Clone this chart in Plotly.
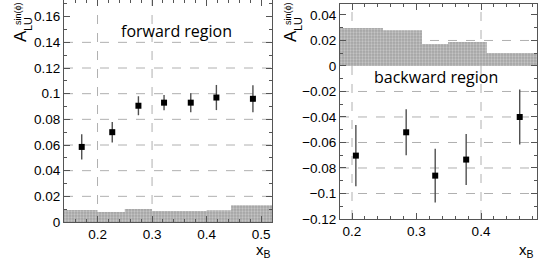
import plotly.graph_objects as go

# ---- data: forward region (left) ----
fw_x = [0.171, 0.227, 0.275, 0.322, 0.371, 0.418, 0.485]
fw_y = [0.0585, 0.070, 0.0906, 0.093, 0.093, 0.097, 0.096]
fw_err = [0.0098, 0.008, 0.0074, 0.006, 0.0074, 0.0098, 0.0105]
fw_sys_edges = [0.1385, 0.2, 0.25, 0.3, 0.35, 0.4, 0.445, 0.52]
fw_sys = [0.0094, 0.0078, 0.0101, 0.0086, 0.0086, 0.0092, 0.013]

# ---- data: backward region (right) ----
bw_x = [0.206, 0.284, 0.329, 0.377, 0.460]
bw_y = [-0.0703, -0.052, -0.086, -0.0734, -0.040]
bw_err = [0.024, 0.018, 0.021, 0.020, 0.0215]
bw_sys_edges = [0.1814, 0.248, 0.3085, 0.349, 0.409, 0.4868]
bw_sys = [0.0297, 0.028, 0.0172, 0.0188, 0.0102]

left_yticks = [0, 0.02, 0.04, 0.06, 0.08, 0.1, 0.12, 0.14, 0.16]
left_yticktext = ["0", "0.02", "0.04", "0.06", "0.08", "0.1", "0.12", "0.14", "0.16"]
left_xticks = [0.2, 0.3, 0.4, 0.5]
right_yticks = [-0.12, -0.1, -0.08, -0.06, -0.04, -0.02, 0, 0.02, 0.04]
right_yticktext = ["\u22120.12", "\u22120.1", "\u22120.08", "\u22120.06", "\u22120.04", "\u22120.02", "0", "0.02", "0.04"]
right_xticks = [0.2, 0.3, 0.4]

left_grid_x = [0.2, 0.3]
left_grid_y = [0.02, 0.04, 0.06, 0.08, 0.1, 0.12, 0.14]
right_grid_x = [0.2, 0.4]
right_grid_y = [-0.1, -0.08, -0.06, -0.04, -0.02, 0.02]

FONT = "Liberation Sans, Arial, sans-serif"
fig = go.Figure()

pattern = dict(shape=".", bgcolor="#a3a3a3", fgcolor="#e6e6e6", size=3, solidity=0.45)

def band(edges, vals, xa, ya):
    return go.Scatter(x=edges, y=vals + [vals[-1]], mode="lines", line=dict(width=0, shape="hv"),
                      fill="tozeroy", fillcolor="rgba(0,0,0,0)", fillpattern=pattern,
                      xaxis=xa, yaxis=ya, showlegend=False, hoverinfo="skip")

fig.add_trace(band(fw_sys_edges, fw_sys, "x", "y"))
fig.add_trace(band(bw_sys_edges, bw_sys, "x2", "y2"))

def pts(x, y, e, xa, ya):
    return go.Scatter(x=x, y=y, mode="markers", marker=dict(symbol="square", size=6, color="black"),
                      error_y=dict(type="data", array=e, color="#505050", thickness=1.4, width=0),
                      xaxis=xa, yaxis=ya, showlegend=False)

fig.add_trace(pts(fw_x, fw_y, fw_err, "x", "y"))
fig.add_trace(pts(bw_x, bw_y, bw_err, "x2", "y2"))

axcommon = dict(showline=True, linecolor="#555", linewidth=1, mirror="allticks", ticks="inside",
                ticklen=6, tickcolor="#555", showgrid=False, zeroline=False, automargin=False,
                tickfont=dict(family=FONT, size=13.5, color="black"),
                minor=dict(ticks="inside", ticklen=3, tickcolor="#555", showgrid=False))

fig.update_layout(
    width=545, height=261, margin=dict(l=0, r=0, t=0, b=0),
    paper_bgcolor="white", plot_bgcolor="white",
    xaxis=dict(domain=[64/545, 272/545], range=[0.1385, 0.52], tickvals=left_xticks,
               ticktext=["0.2", "0.3", "0.4", "0.5"], anchor="y", **axcommon),
    yaxis=dict(domain=[1-222/261, 1.0], range=[0, 0.173], tickvals=left_yticks,
               ticktext=left_yticktext, anchor="x", **axcommon),
    xaxis2=dict(domain=[340/545, 537/545], range=[0.1814, 0.4868], tickvals=right_xticks,
                ticktext=["0.2", "0.3", "0.4"], anchor="y2", **axcommon),
    yaxis2=dict(domain=[1-219/261, 1-4/261], range=[-0.12, 0.0486], tickvals=right_yticks,
                ticktext=right_yticktext, anchor="x2", **axcommon),
)
fig.update_xaxes(minor_dtick=0.02, minor_tick0=0)
fig.update_yaxes(minor_dtick=0.01, minor_tick0=0)

grid_line = dict(color="#b0b0b0", width=1, dash="dash")
shapes = []
for gx in left_grid_x:
    shapes.append(dict(type="line", xref="x", yref="y domain", x0=gx, x1=gx, y0=0, y1=1, line=grid_line, layer="below"))
for gy in left_grid_y:
    shapes.append(dict(type="line", xref="x domain", yref="y", x0=0, x1=1, y0=gy, y1=gy, line=grid_line, layer="below"))
for gx in right_grid_x:
    shapes.append(dict(type="line", xref="x2", yref="y2 domain", x0=gx, x1=gx, y0=0, y1=1, line=grid_line, layer="below"))
for gy in right_grid_y:
    shapes.append(dict(type="line", xref="x2 domain", yref="y2", x0=0, x1=1, y0=gy, y1=gy, line=grid_line, layer="below"))
fig.update_layout(shapes=shapes)

ann = []
TFONT = "Open Sans, Lato, sans-serif"
ann.append(dict(text="forward region", xref="paper", yref="paper", x=176/545, y=1-31/261,
                showarrow=False, font=dict(family=TFONT, size=16, color="black"), xanchor="center", yanchor="middle"))
ann.append(dict(text="backward region", xref="paper", yref="paper", x=436/545, y=1-77/261,
                showarrow=False, font=dict(family=TFONT, size=16, color="black"), xanchor="center", yanchor="middle"))

def ytitle(x0):
    return [
        dict(text="A", xref="paper", yref="paper", x=(x0+20)/545, y=1-36/261, textangle=-90,
             showarrow=False, font=dict(family=FONT, size=17, color="black"), xanchor="center", yanchor="middle"),
        dict(text="sin(\u03d5)", xref="paper", yref="paper", x=(x0+18)/545, y=1-14/261, textangle=-90,
             showarrow=False, font=dict(family=FONT, size=9, color="black"), xanchor="center", yanchor="middle"),
        dict(text="LU", xref="paper", yref="paper", x=(x0+28)/545, y=1-24/261, textangle=-90,
             showarrow=False, font=dict(family=FONT, size=11, color="black"), xanchor="center", yanchor="middle"),
    ]

ann += ytitle(0)
ann += ytitle(270)
for xx in (263, 526):
    ann.append(dict(text="x<sub>B</sub>", xref="paper", yref="paper", x=xx/545, y=1-250/261,
                    showarrow=False, font=dict(family=FONT, size=15, color="black"), xanchor="center", yanchor="middle"))
fig.update_layout(annotations=ann)

fig.write_html("out.html", config={"displayModeBar": False},
               post_script="document.body.style.margin='0';")
